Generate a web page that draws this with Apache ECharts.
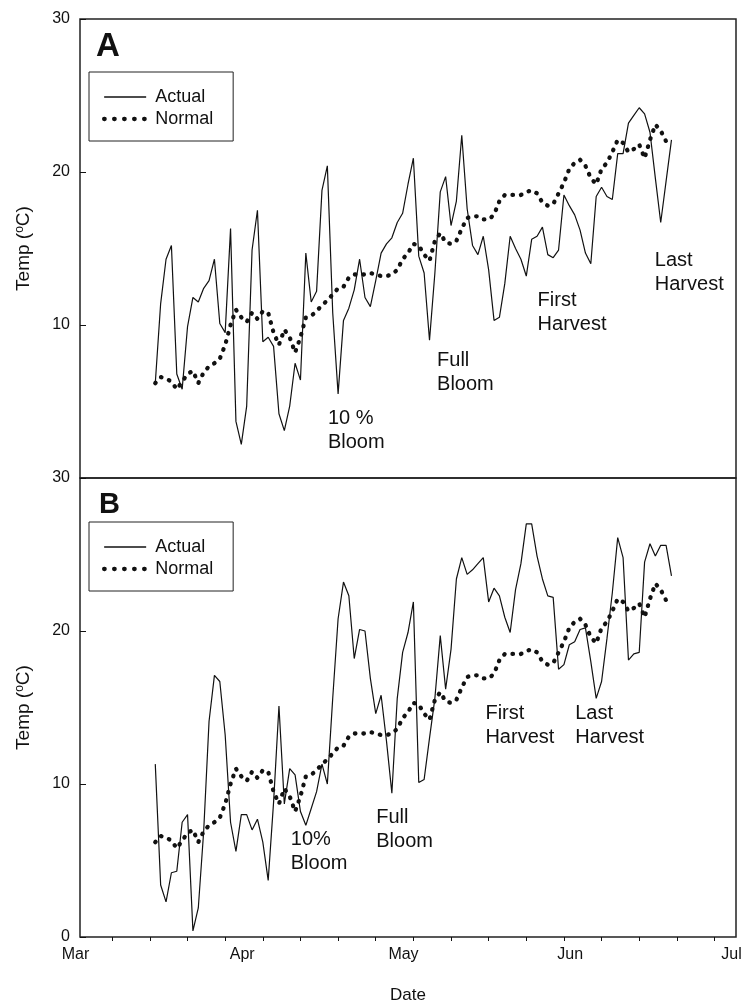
<!DOCTYPE html>
<html>
<head>
<meta charset="utf-8">
<script src="https://cdn.jsdelivr.net/npm/echarts@6/dist/echarts.min.js"></script>
<style>
	html, body { margin: 0; padding: 0; background: #fff; }
	#chart { width: 746px; height: 1005px; }
</style>
</head>
<body>
<div id="chart"></div>
<script>
// Days are counted from Mar 1 (day 0). Both seasons run daily from Mar 15 to Jun 19.
const firstDay = 14;

// Panel A, daily temperature (°C)
const actualA = [
	6.2, 11.4, 14.3, 15.2, 6.8, 5.8, 9.9, 11.8, 11.5, 12.4,
	12.9, 14.3, 10.1, 9.5, 16.3, 3.7, 2.2, 4.7, 14.9, 17.5,
	8.9, 9.2, 8.6, 4.2, 3.1, 4.7, 7.5, 6.4, 14.7, 11.5,
	12.2, 18.8, 20.4, 10.8, 5.5, 10.3, 11.1, 12.3, 14.3, 11.8,
	11.2, 12.9, 14.7, 15.3, 15.7, 16.7, 17.3, 19.2, 20.9, 14.5,
	13.4, 9.0, 13.4, 18.7, 19.7, 16.5, 18.1, 22.4, 17.6, 15.2,
	14.6, 15.8, 13.6, 10.3, 10.5, 12.7, 15.8, 15.0, 14.3, 13.2,
	15.6, 15.8, 16.4, 14.6, 14.4, 14.9, 18.5, 17.8, 17.2, 16.2,
	14.7, 14.0, 18.4, 19.0, 18.4, 18.2, 21.2, 21.2, 23.2, 23.7,
	24.2, 23.8, 22.6, 19.6, 16.7, 19.4, 22.1
];

// Panel B, daily temperature (°C)
const actualB = [
	11.3, 3.4, 2.3, 4.2, 4.3, 7.5, 8.0, 0.4, 1.9, 6.9,
	14.1, 17.1, 16.7, 13.2, 7.5, 5.6, 8.0, 8.0, 7.0, 7.7,
	6.2, 3.7, 8.8, 15.1, 8.7, 11.0, 10.6, 8.2, 7.3, 8.4,
	9.5, 11.3, 10.0, 15.6, 20.8, 23.2, 22.3, 18.2, 20.1, 20.0,
	16.9, 14.6, 15.8, 12.8, 9.4, 15.6, 18.6, 19.9, 21.9, 10.1,
	10.3, 13.0, 15.6, 19.7, 16.2, 18.8, 23.4, 24.8, 23.7, 24.0,
	24.4, 24.8, 21.9, 22.8, 22.3, 20.9, 19.9, 22.7, 24.4, 27.0,
	27.0, 24.9, 23.4, 22.3, 22.2, 17.5, 17.8, 19.1, 19.3, 20.1,
	20.2, 18.0, 15.6, 16.7, 19.5, 22.5, 26.1, 24.8, 18.1, 18.5,
	18.6, 24.5, 25.7, 24.9, 25.6, 25.6, 23.6
];

// Long-term normal, same in both panels
const normal = [
	6.2, 6.6, 6.5, 6.3, 5.8, 6.3, 6.8, 7.0, 6.2, 6.9,
	7.3, 7.5, 7.8, 8.7, 10.0, 11.0, 10.5, 10.2, 10.8, 10.4,
	10.9, 10.8, 9.5, 8.7, 9.7, 9.2, 8.2, 9.2, 10.5, 10.6,
	10.9, 11.3, 11.6, 12.0, 12.4, 12.5, 13.1, 13.3, 13.3, 13.3,
	13.4, 13.3, 13.2, 13.2, 13.3, 13.6, 14.3, 14.7, 15.3, 15.2,
	14.6, 14.2, 15.5, 16.0, 15.4, 15.3, 15.5, 16.3, 17.0, 17.1,
	17.1, 16.9, 16.9, 17.2, 18.1, 18.5, 18.5, 18.5, 18.5, 18.7,
	18.8, 18.6, 18.0, 17.8, 17.9, 18.6, 19.3, 20.2, 20.6, 20.8,
	20.4, 19.6, 19.2, 20.2, 20.6, 21.3, 22.1, 21.9, 21.3, 21.5,
	21.8, 20.9, 22.1, 23.1, 22.7, 22.0, 22.2
];

const monthStarts = [ 0, 31, 61, 92, 122 ];
const monthLabels = [ 'Mar', 'Apr', 'May', 'Jun', 'Jul' ];
const weekTicks = [ 6, 13, 20, 27, 34, 41, 48, 55, 62, 69, 76, 83, 90, 97, 104, 111, 118 ];

// [ day, temp, text ] – where each note starts
const notesA = [
	[ 46.1, 3.1, '10 %\nBloom' ],
	[ 66.4, 6.9, 'Full\nBloom' ],
	[ 85.1, 10.8, 'First\nHarvest' ],
	[ 106.9, 13.4, 'Last\nHarvest' ]
];
const notesB = [
	[ 39.2, 5.6, '10%\nBloom' ],
	[ 55.1, 7.0, 'Full\nBloom' ],
	[ 75.4, 13.8, 'First\nHarvest' ],
	[ 92.1, 13.8, 'Last\nHarvest' ]
];

const FONT = '\'Liberation Sans\', Arial, sans-serif';
const INK = '#111';

const toPoints = ( values ) => values.map( ( v, i ) => [ firstDay + i, v ] );

const actualLine = ( data, idx ) => ( {
	name: 'Actual',
	type: 'line',
	xAxisIndex: idx,
	yAxisIndex: idx,
	data: toPoints( data ),
	symbol: 'none',
	itemStyle: { color: INK },
	lineStyle: { color: INK, width: 1.2 },
	z: 2
} );

const normalLine = ( idx ) => ( {
	name: 'Normal',
	type: 'line',
	xAxisIndex: idx,
	yAxisIndex: idx,
	data: toPoints( normal ),
	symbol: 'none',
	itemStyle: { color: INK },
	lineStyle: { color: INK, width: 4.3, type: [ 0.5, 8 ], cap: 'round' },
	z: 3
} );

const noteSeries = ( notes, idx ) => ( {
	type: 'scatter',
	xAxisIndex: idx,
	yAxisIndex: idx,
	symbolSize: 0,
	silent: true,
	itemStyle: { color: INK, opacity: 1 },
	data: notes,
	label: {
		show: true,
		position: 'right',
		distance: 0,
		formatter: ( p ) => p.data[ 2 ],
		fontFamily: FONT,
		fontSize: 20,
		lineHeight: 24,
		color: INK,
		opacity: 1
	}
} );

// legend symbols hidden so only the line samples show
const hiddenMark = { color: 'rgba(0,0,0,0)', borderWidth: 0 };

const panelLegend = ( top ) => ( {
	orient: 'vertical',
	left: 89,
	top,
	padding: [ 16, 20, 13, 13 ],
	borderColor: '#222',
	borderWidth: 1,
	itemGap: 4,
	itemWidth: 42,
	itemHeight: 14,
	selectedMode: false,
	textStyle: { fontFamily: FONT, fontSize: 18, color: INK, padding: [ 0, 0, 0, 4 ] },
	data: [
		{ name: 'Actual', itemStyle: hiddenMark, lineStyle: { width: 1.3 } },
		{ name: 'Normal', itemStyle: hiddenMark, lineStyle: { width: 4.3, type: [ 0.5, 9.5 ] } }
	]
} );

const tempAxis = ( idx ) => ( {
	gridIndex: idx,
	type: 'value',
	min: 0,
	max: 30,
	interval: 10,
	axisLine: { show: false },
	axisTick: { show: true, inside: true, length: 6, lineStyle: { color: INK } },
	axisLabel: {
		showMinLabel: idx === 1,
		margin: 10,
		fontFamily: FONT,
		fontSize: 16,
		color: INK
	},
	splitLine: { show: false },
	name: '{n|Temp (}{s|o}{n|C)}',
	nameLocation: 'middle',
	nameRotate: 90,
	nameGap: 47,
	nameTextStyle: {
		color: INK,
		rich: {
			n: { fontFamily: FONT, fontSize: 19, color: INK },
			s: { fontFamily: FONT, fontSize: 12, color: INK, verticalAlign: 'top' }
		}
	}
} );

const chart = echarts.init( document.getElementById( 'chart' ) );

chart.setOption( {
	animation: false,
	backgroundColor: '#fff',
	title: [
		{ text: 'A', left: 96, top: 30, padding: 0, textStyle: { fontFamily: FONT, fontSize: 33, fontWeight: 'bold', color: INK } },
		{ text: 'B', left: 99, top: 490, padding: 0, textStyle: { fontFamily: FONT, fontSize: 29, fontWeight: 'bold', color: INK } }
	],
	legend: [ panelLegend( 72 ), panelLegend( 522 ) ],
	grid: [
		{ left: 80, right: 10, top: 19, height: 459, show: true, borderColor: '#222', borderWidth: 1.5 },
		{ left: 80, right: 10, top: 478, height: 461, show: true, borderColor: '#222', borderWidth: 1.5 }
	],
	xAxis: [
		{ gridIndex: 0, type: 'value', min: 0, max: 122, show: false },
		{
			gridIndex: 1,
			type: 'value',
			min: 0,
			max: 122,
			axisLine: { show: false },
			axisTick: { show: true, customValues: weekTicks, length: 4, lineStyle: { color: INK } },
			axisLabel: {
				customValues: monthStarts,
				formatter: ( v ) => monthLabels[ monthStarts.indexOf( v ) ],
				margin: 10,
				padding: [ 0, 9, 0, 0 ],
				fontFamily: FONT,
				fontSize: 16,
				color: INK
			},
			splitLine: { show: false },
			name: 'Date',
			nameLocation: 'middle',
			nameGap: 50,
			nameTextStyle: { fontFamily: FONT, fontSize: 17, color: INK }
		}
	],
	yAxis: [ tempAxis( 0 ), tempAxis( 1 ) ],
	series: [
		actualLine( actualA, 0 ),
		normalLine( 0 ),
		noteSeries( notesA, 0 ),
		actualLine( actualB, 1 ),
		normalLine( 1 ),
		noteSeries( notesB, 1 )
	]
} );
</script>
</body>
</html>
